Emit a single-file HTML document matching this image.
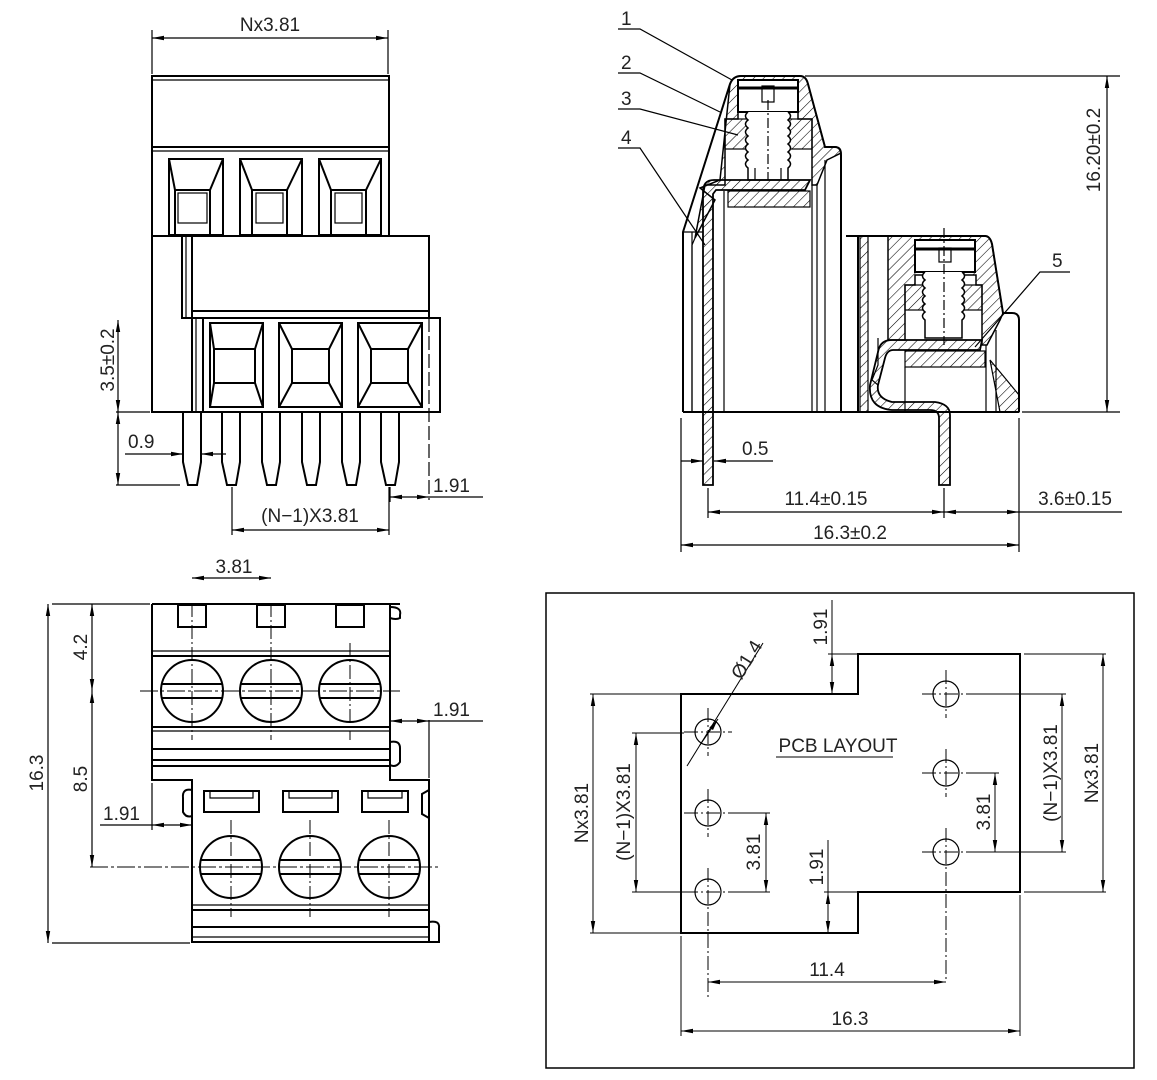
<!DOCTYPE html>
<html><head><meta charset="utf-8"><style>
html,body{margin:0;padding:0;background:#fff}
svg{display:block}
text{font-family:"Liberation Sans",sans-serif;font-size:19px;fill:#222}
</style></head><body>
<svg width="1157" height="1080" viewBox="0 0 1157 1080" xmlns="http://www.w3.org/2000/svg">
<defs>
<pattern id="h" patternUnits="userSpaceOnUse" width="7" height="7" patternTransform="rotate(45)">
<line x1="0" y1="0" x2="0" y2="7" stroke="#000" stroke-width="1.1"/></pattern>
<marker id="a" viewBox="0 0 12 6" refX="12" refY="3" markerWidth="12" markerHeight="6" markerUnits="userSpaceOnUse" orient="auto-start-reverse"><path d="M0,0.8 L12,3 L0,5.2z" fill="#000"/></marker>
</defs>

<g fill="none" stroke="#000" stroke-width="1.2">
<!-- ============ TOP LEFT VIEW ============ -->
<line x1="152" y1="38" x2="388" y2="38" marker-start="url(#a)" marker-end="url(#a)"/>
<line x1="152" y1="30" x2="152" y2="74"/><line x1="388" y1="30" x2="388" y2="74"/>
<g stroke-width="2">
<rect x="152" y="76" width="237" height="160"/>
<line x1="152" y1="80" x2="389" y2="80" stroke-width="1.2"/>
<line x1="152" y1="147" x2="389" y2="147"/><line x1="152" y1="151" x2="389" y2="151" stroke-width="1.2"/>
<path d="M152,236 V412 H192"/>
</g>
<g stroke-width="2">
<rect x="169" y="159" width="54" height="76"/><path d="M169,159 L175,190 H210 L223,159"/><rect x="175" y="190" width="35" height="45"/><rect x="178" y="193" width="29" height="30" stroke-width="1.2"/>
<rect x="240" y="159" width="62" height="76"/><path d="M240,159 L252,190 H287 L302,159"/><rect x="252" y="190" width="35" height="45"/><rect x="256" y="193" width="27" height="30" stroke-width="1.2"/>
<rect x="319" y="159" width="62" height="76"/><path d="M319,159 L331,190 H366 L381,159"/><rect x="331" y="190" width="35" height="45"/><rect x="335" y="193" width="27" height="30" stroke-width="1.2"/>
</g>
<g stroke-width="2">
<rect x="182" y="236" width="247" height="82"/>
<line x1="186" y1="236" x2="186" y2="318" stroke-width="1.2"/><line x1="192" y1="236" x2="192" y2="318"/>
<line x1="192" y1="311" x2="429" y2="311"/>
<rect x="192" y="318" width="248" height="94"/>
<line x1="196" y1="318" x2="196" y2="412" stroke-width="1.2"/><line x1="203" y1="318" x2="203" y2="412"/>
<rect x="210" y="323" width="53" height="84"/><path d="M210,323 L214,349 V383 L210,407 M263,323 L255,349 V383 L263,407 M214,349 H255 M214,383 H255"/>
<rect x="279" y="323" width="63" height="84"/><path d="M279,323 L292,349 V383 L279,407 M342,323 L329,349 V383 L342,407 M292,349 H329 M292,383 H329"/>
<rect x="358" y="323" width="64" height="84"/><path d="M358,323 L371,349 V383 L358,407 M422,323 L408,349 V383 L422,407 M371,349 H408 M371,383 H408"/>
</g>
<line x1="429" y1="318" x2="429" y2="500" stroke-dasharray="14,4"/>
<g stroke-width="2">
<path d="M183,412 V462 L188,485 H197 L201,462 V412"/>
<path d="M222,412 V462 L227,485 H236 L240,462 V412"/>
<path d="M262,412 V462 L267,485 H276 L280,462 V412"/>
<path d="M302,412 V462 L307,485 H316 L320,462 V412"/>
<path d="M342,412 V462 L347,485 H356 L360,462 V412"/>
<path d="M381,412 V462 L386,485 H395 L399,462 V412"/>
</g>
<line x1="118" y1="320" x2="118" y2="412" marker-start="url(#a)" marker-end="url(#a)"/>
<line x1="116" y1="412" x2="150" y2="412"/>
<line x1="118" y1="412" x2="118" y2="485" marker-start="url(#a)" marker-end="url(#a)"/>
<line x1="116" y1="485" x2="180" y2="485"/>
<line x1="125" y1="454" x2="183" y2="454" marker-end="url(#a)"/><line x1="226" y1="454" x2="201" y2="454" marker-end="url(#a)"/>
<line x1="390" y1="487" x2="390" y2="502"/>
<line x1="390" y1="497" x2="429" y2="497" marker-start="url(#a)" marker-end="url(#a)"/><line x1="429" y1="497" x2="483" y2="497"/>
<line x1="232" y1="487" x2="232" y2="535"/><line x1="389" y1="487" x2="389" y2="535"/>
<line x1="232" y1="530" x2="389" y2="530" marker-start="url(#a)" marker-end="url(#a)"/>

<!-- ============ TOP RIGHT SECTION ============ -->
<!-- housing 1 -->
<path d="M683,412 V232 L730,84 Q733,76 741,76 H800 Q806,76 808,84 L825,147 H835 Q841,147 841,155 V412" stroke-width="2"/>
<path d="M730,84 Q733,76 741,76 H800 Q806,76 808,84 L825,147 H835 Q841,147 841,153 L827,160 L817,185 H812 V119 H798 V112 H738 V119 H725 V185 H705 L695,238 L715,200 L700,188 L720,180 Z" fill="url(#h)" stroke-width="1.5"/>
<rect x="725" y="119" width="23" height="30" fill="url(#h)"/><rect x="788" y="119" width="24" height="30" fill="url(#h)"/>
<rect x="738" y="80" width="60" height="32" fill="#fff" stroke-width="2"/>
<line x1="738" y1="88" x2="798" y2="88" stroke-width="3"/>
<rect x="762" y="86" width="12" height="16"/>
<path d="M748,112 q-5,4 0,8 q-5,4 0,8 q-5,4 0,8 q-5,4 0,8 q-5,4 0,8 q-5,4 0,8 q-5,4 0,8 V180 H788 V168 q5,-4 0,-8 q5,-4 0,-8 q5,-4 0,-8 q5,-4 0,-8 q5,-4 0,-8 q5,-4 0,-8 q5,-4 0,-8" fill="#fff" stroke-width="1.5"/>
<line x1="755" y1="168" x2="755" y2="180"/><line x1="781" y1="168" x2="781" y2="180"/>
<line x1="768" y1="100" x2="768" y2="180" stroke-dasharray="10,3,2,3"/>
<path d="M714,180 H810 L805,190 H716 L713,194 V485 H703 V192 Q703,180 714,180 Z" fill="url(#h)" stroke-width="1.8"/>
<rect x="728" y="191" width="82" height="16" fill="url(#h)"/>
<line x1="724" y1="191" x2="724" y2="412"/><line x1="812" y1="185" x2="812" y2="412"/><line x1="817" y1="185" x2="817" y2="412"/><line x1="825" y1="160" x2="825" y2="412"/>
<line x1="692" y1="232" x2="692" y2="412"/><line x1="683" y1="232" x2="703" y2="232"/>
<path d="M695,238 L692,245 V412" />
<!-- housing 2 -->
<path d="M846,236 H985 Q990,236 992,244 L1003,313 H1012 Q1019,313 1019,320 V412" stroke-width="2"/>
<line x1="858" y1="236" x2="858" y2="412" stroke-width="2"/>
<path d="M860,236 H868 V412 H860 Z" fill="url(#h)"/>
<path d="M888,236 H985 Q990,236 992,244 L1003,313 L1000,320 L987,345 H982 V285 H976 V275 H915 V285 H905 V340 H888 Z" fill="url(#h)" stroke-width="1.5"/>
<rect x="905" y="285" width="22" height="25" fill="url(#h)"/><rect x="962" y="285" width="20" height="25" fill="url(#h)"/>
<rect x="915" y="240" width="60" height="32" fill="#fff" stroke-width="2"/>
<line x1="915" y1="249" x2="975" y2="249" stroke-width="3"/>
<rect x="939" y="248" width="12" height="14"/>
<path d="M925,272 q-5,4 0,8 q-5,4 0,8 q-5,4 0,8 q-5,4 0,8 q-5,4 0,8 q-5,4 0,8 V338 H962 V320 q5,-4 0,-8 q5,-4 0,-8 q5,-4 0,-8 q5,-4 0,-8 q5,-4 0,-8 q5,-4 0,-8" fill="#fff" stroke-width="1.5"/>
<line x1="944" y1="228" x2="944" y2="345" stroke-dasharray="10,3,2,3"/>
<path d="M892,340 H982 L980,350 H893 Q887,350 885,358 L878,385 Q876,398 892,402 H935 Q950,404 950,415 V485 H939 V418 Q939,410 930,410 H892 Q868,408 870,385 L878,352 Q880,340 892,340 Z" fill="url(#h)" stroke-width="1.8"/>
<rect x="905" y="351" width="80" height="16" fill="url(#h)"/>
<path d="M990,360 L1005,378 L1019,395 V412 H1000 Z" fill="url(#h)"/>
<line x1="986" y1="345" x2="986" y2="412"/><line x1="905" y1="367" x2="905" y2="412"/><line x1="996" y1="330" x2="996" y2="412"/>
<path d="M878,338 V365 L872,380 L878,385" />
<line x1="683" y1="412" x2="1019" y2="412" stroke-width="2"/>
<!-- labels 1-4 leaders -->
<path d="M618,29 H640 L732,80"/><path d="M618,73 H640 L720,112"/><path d="M618,109 H640 L738,135"/><path d="M618,148 H640 L705,245"/>
<path d="M1070,272 H1040 L975,347"/>
<!-- 16.20 dim -->
<line x1="805" y1="76" x2="1120" y2="76"/><line x1="1022" y1="412" x2="1120" y2="412"/>
<line x1="1107" y1="76" x2="1107" y2="412" marker-start="url(#a)" marker-end="url(#a)"/>
<!-- bottom dims -->
<line x1="681" y1="418" x2="681" y2="552"/><line x1="1019" y1="418" x2="1019" y2="552"/>
<line x1="708" y1="488" x2="708" y2="518"/><line x1="944" y1="488" x2="944" y2="518"/>
<line x1="681" y1="461" x2="703" y2="461" marker-end="url(#a)"/><line x1="773" y1="461" x2="714" y2="461" marker-end="url(#a)"/>
<line x1="708" y1="512" x2="944" y2="512" marker-start="url(#a)" marker-end="url(#a)"/>
<line x1="944" y1="512" x2="1019" y2="512" marker-start="url(#a)" marker-end="url(#a)"/><line x1="1019" y1="512" x2="1122" y2="512"/>
<line x1="681" y1="545" x2="1019" y2="545" marker-start="url(#a)" marker-end="url(#a)"/>

<!-- ============ BOTTOM LEFT VIEW ============ -->
<g stroke-width="2">
<path d="M152,604 H400 M152,604 V780 H192 V942 H429 V780 H390 V604"/>
<rect x="178" y="605" width="28" height="22"/><rect x="257" y="605" width="28" height="22"/><rect x="336" y="605" width="28" height="22"/>
<path d="M390,607 Q402,607 400,615 V618 Q396,620 390,618"/>
<line x1="152" y1="651" x2="390" y2="651" stroke-width="1.2"/><line x1="152" y1="656" x2="390" y2="656"/>
<line x1="152" y1="727" x2="390" y2="727"/><line x1="152" y1="731" x2="390" y2="731" stroke-width="1.2"/>
<line x1="152" y1="749" x2="390" y2="749"/><line x1="152" y1="760" x2="390" y2="760"/><line x1="152" y1="766" x2="390" y2="766"/>
<path d="M390,742 Q400,740 400,748 V762 Q396,768 390,765"/>
<circle cx="192" cy="691" r="31"/><circle cx="271" cy="691" r="31"/><circle cx="350" cy="691" r="31"/>
<path d="M162,684 H222 M162,698 H222 M241,684 H301 M241,698 H301 M320,684 H380 M320,698 H380"/>
<rect x="204" y="791" width="55" height="21"/><rect x="283" y="791" width="55" height="21"/><rect x="362" y="791" width="46" height="21"/>
<path d="M210,791 V798 H253 V791 M289,791 V798 H332 V791 M368,791 V798 H402 V791" stroke-width="1.2"/>
<path d="M192,790 Q182,788 183,798 V812 Q186,818 192,816"/>
<path d="M429,790 L422,794 V814 L429,818"/>
<circle cx="231" cy="867" r="31"/><circle cx="310" cy="867" r="31"/><circle cx="389" cy="867" r="31"/>
<path d="M201,860 H261 M201,874 H261 M280,860 H340 M280,874 H340 M359,860 H419 M359,874 H419"/>
<line x1="192" y1="905" x2="429" y2="905" stroke-width="1.2"/><line x1="192" y1="910" x2="429" y2="910"/>
<line x1="192" y1="927" x2="429" y2="927"/><line x1="192" y1="937" x2="429" y2="937" stroke-width="1.2"/>
<path d="M429,922 Q440,920 439,928 V942 H429"/>
</g>
<g stroke-width="1">
<path d="M192,603 V740 M271,603 V740 M350,643 V740 M231,820 V917 M310,820 V917 M389,820 V917" stroke-dasharray="14,3,2,3"/>
<path d="M140,691 H400 M90,867 H440" stroke-dasharray="18,3,3,3"/>
</g>
<line x1="192" y1="578" x2="271" y2="578" marker-start="url(#a)" marker-end="url(#a)"/>
<line x1="52" y1="604" x2="150" y2="604"/><line x1="52" y1="943" x2="190" y2="943"/>
<line x1="48" y1="604" x2="48" y2="943" marker-start="url(#a)" marker-end="url(#a)"/>
<line x1="92" y1="604" x2="92" y2="691" marker-start="url(#a)" marker-end="url(#a)"/>
<line x1="92" y1="691" x2="92" y2="867" marker-start="url(#a)" marker-end="url(#a)"/>
<line x1="429" y1="720" x2="429" y2="778"/>
<line x1="390" y1="721" x2="429" y2="721" marker-start="url(#a)" marker-end="url(#a)"/><line x1="429" y1="721" x2="483" y2="721"/>
<line x1="152" y1="783" x2="152" y2="830"/>
<line x1="100" y1="825" x2="152" y2="825"/>
<line x1="152" y1="825" x2="192" y2="825" marker-start="url(#a)" marker-end="url(#a)"/>

<!-- ============ PCB LAYOUT ============ -->
<rect x="546" y="593" width="588" height="475" stroke-width="1.5"/>
<path d="M681,694 H858 V654 H1020 V892 H858 V933 H681 Z" stroke-width="2"/>
<g stroke-width="1.2">
<circle cx="708" cy="732" r="13"/><circle cx="708" cy="813" r="13"/><circle cx="708" cy="892" r="13"/>
<circle cx="946" cy="694" r="13"/><circle cx="946" cy="773" r="13"/><circle cx="946" cy="852" r="13"/>
</g>
<g stroke-width="1" stroke-dasharray="14,3,2,3">
<path d="M684,732 H732 M708,708 V756 M684,813 H732 M708,789 V837 M684,892 H732 M708,868 V1000"/>
<path d="M922,694 H970 M946,670 V718 M922,773 H970 M946,749 V797 M922,852 H970 M946,828 V980"/>
</g>
<g stroke-width="1">
<line x1="590" y1="694" x2="681" y2="694"/><line x1="590" y1="933" x2="681" y2="933"/>
<line x1="593" y1="694" x2="593" y2="933" marker-start="url(#a)" marker-end="url(#a)"/>
<line x1="632" y1="733" x2="684" y2="733"/><line x1="632" y1="892" x2="684" y2="892"/>
<line x1="636" y1="733" x2="636" y2="892" marker-start="url(#a)" marker-end="url(#a)"/>
<line x1="732" y1="813" x2="770" y2="813"/><line x1="732" y1="892" x2="770" y2="892"/>
<line x1="766" y1="813" x2="766" y2="892" marker-start="url(#a)" marker-end="url(#a)"/>
<line x1="828" y1="840" x2="828" y2="933"/>
<line x1="828" y1="892" x2="828" y2="933" marker-start="url(#a)" marker-end="url(#a)"/>
<line x1="824" y1="892" x2="858" y2="892"/>
<line x1="832" y1="600" x2="832" y2="694"/>
<line x1="832" y1="654" x2="832" y2="694" marker-start="url(#a)" marker-end="url(#a)"/>
<line x1="828" y1="654" x2="858" y2="654"/>
<line x1="970" y1="773" x2="999" y2="773"/><line x1="970" y1="852" x2="1066" y2="852"/>
<line x1="995" y1="773" x2="995" y2="852" marker-start="url(#a)" marker-end="url(#a)"/>
<line x1="970" y1="694" x2="1066" y2="694"/>
<line x1="1062" y1="694" x2="1062" y2="852" marker-start="url(#a)" marker-end="url(#a)"/>
<line x1="1024" y1="654" x2="1106" y2="654"/><line x1="1024" y1="892" x2="1106" y2="892"/>
<line x1="1103" y1="654" x2="1103" y2="892" marker-start="url(#a)" marker-end="url(#a)"/>
<line x1="708" y1="982" x2="946" y2="982" marker-start="url(#a)" marker-end="url(#a)"/>
<line x1="681" y1="936" x2="681" y2="1036"/><line x1="1020" y1="895" x2="1020" y2="1036"/>
<line x1="681" y1="1031" x2="1020" y2="1031" marker-start="url(#a)" marker-end="url(#a)"/>
<line x1="687" y1="766" x2="763" y2="643"/>
<line x1="700" y1="745" x2="718" y2="719" marker-end="url(#a)"/>
<line x1="776" y1="757" x2="893" y2="757"/>
</g>
</g>

<!-- ============ TEXT ============ -->
<text x="270" y="31" text-anchor="middle">Nx3.81</text>
<text transform="translate(118,360) rotate(-90)" text-anchor="middle" x="0" y="-4">3.5±0.2</text>
<text x="128" y="448">0.9</text>
<text x="433" y="492">1.91</text>
<text x="310" y="522" text-anchor="middle">(N−1)X3.81</text>
<text x="621" y="25">1</text><text x="621" y="69">2</text><text x="621" y="105">3</text><text x="621" y="144">4</text>
<text x="1052" y="267">5</text>
<text transform="translate(1100,150) rotate(-90)" text-anchor="middle">16.20±0.2</text>
<text x="742" y="455">0.5</text>
<text x="826" y="505" text-anchor="middle">11.4±0.15</text>
<text x="1075" y="505" text-anchor="middle">3.6±0.15</text>
<text x="850" y="539" text-anchor="middle">16.3±0.2</text>
<text x="234" y="573" text-anchor="middle">3.81</text>
<text transform="translate(43,773) rotate(-90)" text-anchor="middle">16.3</text>
<text transform="translate(87,647) rotate(-90)" text-anchor="middle">4.2</text>
<text transform="translate(87,779) rotate(-90)" text-anchor="middle">8.5</text>
<text x="433" y="716">1.91</text>
<text x="103" y="820">1.91</text>
<text x="838" y="752" text-anchor="middle">PCB LAYOUT</text>
<text transform="translate(752,663) rotate(-58)" text-anchor="middle">Ø1.4</text>
<text transform="translate(827,627) rotate(-90)" text-anchor="middle">1.91</text>
<text transform="translate(823,867) rotate(-90)" text-anchor="middle">1.91</text>
<text transform="translate(588,813) rotate(-90)" text-anchor="middle">Nx3.81</text>
<text transform="translate(630,812) rotate(-90)" text-anchor="middle">(N−1)X3.81</text>
<text transform="translate(760,852) rotate(-90)" text-anchor="middle">3.81</text>
<text transform="translate(990,812) rotate(-90)" text-anchor="middle">3.81</text>
<text transform="translate(1057,773) rotate(-90)" text-anchor="middle">(N−1)X3.81</text>
<text transform="translate(1098,773) rotate(-90)" text-anchor="middle">Nx3.81</text>
<text x="827" y="976" text-anchor="middle">11.4</text>
<text x="850" y="1025" text-anchor="middle">16.3</text>
</svg>
</body></html>
